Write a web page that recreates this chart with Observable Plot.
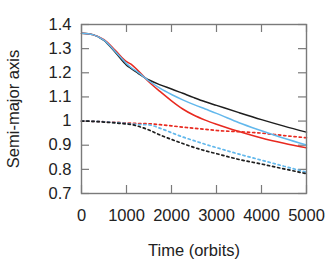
<!DOCTYPE html>
<html>
<head>
<meta charset="utf-8">
<script src="https://cdn.jsdelivr.net/npm/d3@7"></script>
<script src="https://cdn.jsdelivr.net/npm/@observablehq/plot@0.6"></script>
<style>
  html, body { margin: 0; padding: 0; background: #fff; }
</style>
</head>
<body>
<div id="chart"></div>
<script>
const time = [0, 250, 500, 750, 1000, 1100, 1250, 1500, 1750, 2000, 2250, 2500, 2750, 3000, 3500, 4000, 4500, 5000];
const blackSolid = [1.364, 1.358, 1.334, 1.285, 1.232, 1.218, 1.199, 1.170, 1.150, 1.133, 1.115, 1.097, 1.080, 1.065, 1.035, 1.006, 0.979, 0.954];
const blueSolid  = [1.364, 1.358, 1.335, 1.288, 1.238, 1.222, 1.203, 1.166, 1.135, 1.110, 1.088, 1.068, 1.050, 1.032, 0.993, 0.960, 0.929, 0.901];
const redSolid   = [1.364, 1.358, 1.337, 1.293, 1.246, 1.236, 1.210, 1.162, 1.122, 1.084, 1.050, 1.024, 1.004, 0.987, 0.957, 0.930, 0.908, 0.889];
const redDotted  = [1.000, 0.999, 0.997, 0.995, 0.992, 0.991, 0.990, 0.989, 0.985, 0.980, 0.975, 0.970, 0.966, 0.961, 0.956, 0.950, 0.940, 0.931];
const blueDotted = [1.000, 0.999, 0.997, 0.994, 0.990, 0.988, 0.986, 0.984, 0.970, 0.952, 0.934, 0.919, 0.904, 0.890, 0.863, 0.838, 0.813, 0.788];
const blackDotted= [1.000, 0.999, 0.996, 0.992, 0.988, 0.986, 0.979, 0.963, 0.942, 0.924, 0.907, 0.891, 0.877, 0.865, 0.841, 0.822, 0.802, 0.782];

const xTicks = [0, 1000, 2000, 3000, 4000, 5000];
const xTickLabels = ["0", "1000", "2000", "3000", "4000", "5000"];
const yTicks = [0.7, 0.8, 0.9, 1.0, 1.1, 1.2, 1.3, 1.4];
const yTickLabels = ["0.7", "0.8", "0.9", "1", "1.1", "1.2", "1.3", "1.4"];

const toRows = (vals) => time.map((t, i) => ({t, v: vals[i]}));

const ML = 81, MR = 26, MT = 24, MB = 73, W = 332, H = 266;
const frameW = W - ML - MR, frameH = H - MT - MB;
const tickLen = 8;
const gray = "#7a7a7a";
const dots = "2.2,3";
const font = "'Liberation Sans', Arial, sans-serif";
const fs = 16.5;

const chart = Plot.plot({
  width: W,
  height: H,
  marginLeft: ML,
  marginRight: MR,
  marginTop: MT,
  marginBottom: MB,
  style: {fontFamily: font, fontSize: fs + "px", color: "#222", background: "#fff"},
  x: {domain: [0, 5000], label: null},
  y: {domain: [0.7, 1.4], label: null},
  marks: [
    // inward ticks on all four sides
    Plot.ruleX(xTicks, {stroke: gray, strokeWidth: 1.2, insetTop: frameH - tickLen}),
    Plot.ruleX(xTicks, {stroke: gray, strokeWidth: 1.2, insetBottom: frameH - tickLen}),
    Plot.ruleY(yTicks, {stroke: gray, strokeWidth: 1.2, insetRight: frameW - tickLen}),
    Plot.ruleY(yTicks, {stroke: gray, strokeWidth: 1.2, insetLeft: frameW - tickLen}),
    Plot.axisX(xTicks, {tickSize: 0, tickPadding: 16, fontSize: fs, fontFamily: font, tickFormat: (d, i) => xTickLabels[i],
      label: "Time (orbits)", labelAnchor: "center", labelArrow: "none", labelOffset: 62}),
    Plot.axisY(yTicks, {tickSize: 0, tickPadding: 10, fontSize: fs, fontFamily: font, tickFormat: (d, i) => yTickLabels[i],
      label: "Semi-major axis", labelAnchor: "center", labelArrow: "none", labelOffset: 74}),
    Plot.line(toRows(redDotted),   {x: "t", y: "v", stroke: "#e8291f", strokeWidth: 1.7, strokeDasharray: dots, curve: "monotone-x"}),
    Plot.line(toRows(blueDotted),  {x: "t", y: "v", stroke: "#62b8ec", strokeWidth: 1.7, strokeDasharray: dots, curve: "monotone-x"}),
    Plot.line(toRows(blackDotted), {x: "t", y: "v", stroke: "#1e1e1e", strokeWidth: 1.7, strokeDasharray: dots, curve: "monotone-x"}),
    Plot.line(toRows(blackSolid),  {x: "t", y: "v", stroke: "#1e1e1e", strokeWidth: 1.5, curve: "monotone-x"}),
    Plot.line(toRows(redSolid),    {x: "t", y: "v", stroke: "#e8291f", strokeWidth: 1.5, curve: "monotone-x"}),
    Plot.line(toRows(blueSolid),   {x: "t", y: "v", stroke: "#62b8ec", strokeWidth: 1.5, curve: "monotone-x"}),
    Plot.frame({stroke: gray, strokeWidth: 1.4})
  ]
});
document.getElementById("chart").appendChild(chart);
</script>
</body>
</html>
